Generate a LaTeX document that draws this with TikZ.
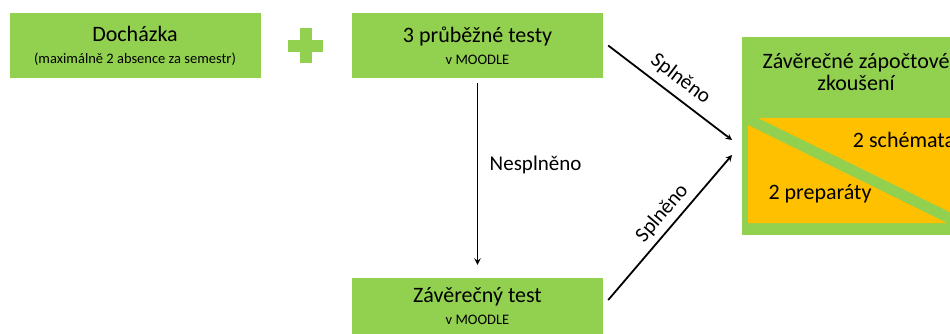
\documentclass[tikz,border=0pt]{standalone}
\usepackage{fontspec}
\setmainfont{Carlito}
\usepackage{xcolor}
\definecolor{boxgreen}{HTML}{92D050}
\definecolor{partorange}{HTML}{FFC000}
\newcommand{\subline}[1]{{\fontsize{14.5}{16}\selectfont #1}}
\tikzset{
    step box/.style = {rectangle, fill=boxgreen, minimum width=251pt, minimum height=65pt,
        align=center, inner sep=0pt, font=\fontsize{22}{22}\selectfont},
    part text/.style = {align=center, inner sep=0pt, font=\fontsize{22}{22}\selectfont},
    flow arrow/.style = {->, >=stealth, line width=1.8pt},
    arrow text/.style = {font=\fontsize{21}{22}\selectfont}
}

\begin{document}
\begin{tikzpicture}[x=1pt, y=-1pt]
        \clip (0, 0) rectangle (950, 334);
        % draw step boxes
        \node[step box] (dochazka) at (135, 45.5) {Docházka\\\subline{(maximálně 2 absence za semestr)}};
        \node[step box] (prubezne) at (477.5, 45.5) {3 průběžné testy\\\subline{v MOODLE}};
        \node[step box, minimum height=56pt] (zaverecny) at (477.5, 306) {Závěrečný test\\\subline{v MOODLE}};
        % draw plus sign
        \fill[boxgreen] (300, 28) rectangle (312, 63);
        \fill[boxgreen] (288, 40) rectangle (323, 52);
        % draw final box and its parts
        \node[fill=boxgreen, inner sep=0pt, minimum width=220pt, minimum height=198pt, anchor=north west] (final) at (742, 37) {};
        \fill[partorange] (758, 118) -- (964, 118) -- (964, 219) -- cycle;
        \fill[partorange] (748, 125) -- (748, 223) -- (947, 223) -- cycle;
        \node[part text] (title) at (856, 72) {Závěrečné zápočtové\\zkoušení};
        \node[part text] (schemata) at (904, 140) {2 schémata};
        \node[part text] (preparaty) at (820, 194) {2 preparáty};
        % draw arrows
        \coordinate (in top) at (732, 140);
        \coordinate (in bottom) at (732, 155);
        \draw[flow arrow] ([xshift=5pt]prubezne.east) -- node[arrow text, above=4pt, sloped]{Splněno} (in top);
        \draw[flow arrow] ([shift={(5, -6)}]zaverecny.east) -- node[arrow text, above=2pt, sloped, pos=0.53]{Splněno} (in bottom);
        \draw[flow arrow] ([yshift=-5pt]prubezne.south) -- node[arrow text, pos=0.45, right=8pt]{Nesplněno} ([yshift=13pt]zaverecny.north);
    \end{tikzpicture}
\end{document}
